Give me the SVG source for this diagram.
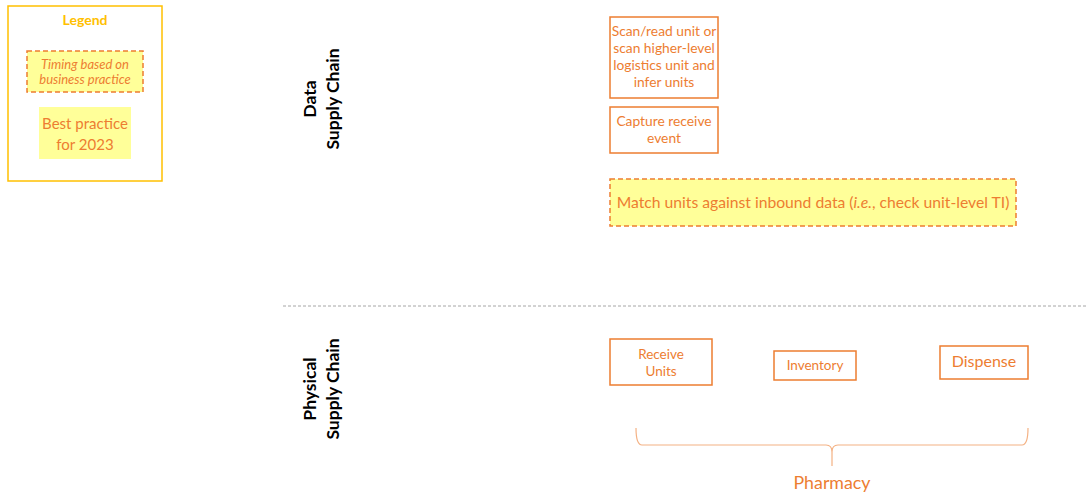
<svg xmlns="http://www.w3.org/2000/svg" width="1088" height="495" viewBox="0 0 1088 495">
<style>
text{font-family:Lato,"Open Sans","Liberation Sans",sans-serif;fill:#ED7D31;text-anchor:middle}
.box{fill:#fff;stroke:#ED7D31;stroke-width:1.5}
.dash{fill:#FFFF99;stroke:#ED7D31;stroke-width:1.5;stroke-dasharray:5,3}
.lane{fill:#000;font-weight:bold;font-size:17.5px}
</style>
<rect width="1088" height="495" fill="#fff"/>
<g id="legend">
<rect x="8" y="6" width="154" height="175" fill="#fff" stroke="#FFC000" stroke-width="1.5"/>
<text x="85" y="25" font-size="14" font-weight="bold" style="fill:#FFC000">Legend</text>
<rect class="dash" x="27" y="51" width="116" height="41"/>
<text x="85" y="69" font-size="13" font-style="italic">Timing based on</text>
<text x="85" y="84" font-size="13" font-style="italic">business practice</text>
<rect x="39" y="107" width="92" height="52" fill="#FFFF99"/>
<text x="85" y="129" font-size="15">Best practice</text>
<text x="85" y="150" font-size="15">for 2023</text>
</g>
<g id="lane-data">
<text class="lane" transform="translate(316,99) rotate(-90)">Data</text>
<text class="lane" transform="translate(339,99) rotate(-90)">Supply Chain</text>
</g>
<g id="lane-physical">
<text class="lane" transform="translate(316,389) rotate(-90)">Physical</text>
<text class="lane" transform="translate(339,389) rotate(-90)">Supply Chain</text>
</g>
<g id="connectors">
<line x1="283" y1="306" x2="1086" y2="306" stroke="#A6A6A6" stroke-width="1" stroke-dasharray="3,2"/>
<path d="M636 428 Q636 445 642 445 L826 445 Q832 445 832 452 L832 466 M832 452 Q832 445 838 445 L1022 445 Q1028 445 1028 428" fill="none" stroke="#F4B183" stroke-width="1.2"/>
</g>
<g id="scan">
<rect class="box" x="610" y="17" width="108" height="81"/>
<text x="664" y="36" font-size="13.8">Scan/read unit or</text>
<text x="664" y="53" font-size="13.8">scan higher-level</text>
<text x="664" y="70" font-size="13.8">logistics unit and</text>
<text x="664" y="87" font-size="13.8">infer units</text>
</g>
<g id="capture">
<rect class="box" x="610" y="107" width="108" height="46"/>
<text x="664" y="126" font-size="13.8">Capture receive</text>
<text x="664" y="143" font-size="13.8">event</text>
</g>
<g id="match">
<rect class="dash" x="610" y="179" width="406" height="47"/>
<text x="813" y="208" font-size="15.7">Match units against inbound data (<tspan font-style="italic">i.e.</tspan>, check unit-level TI)</text>
</g>
<g id="receive">
<rect class="box" x="610" y="339" width="102" height="46"/>
<text x="661" y="359" font-size="13.5">Receive</text>
<text x="661" y="376" font-size="13.5">Units</text>
</g>
<g id="inventory">
<rect class="box" x="774" y="351" width="82" height="29"/>
<text x="815" y="370" font-size="13.5">Inventory</text>
</g>
<g id="dispense">
<rect class="box" x="940" y="346" width="88" height="33"/>
<text x="984" y="367" font-size="16">Dispense</text>
</g>
<g id="pharmacy">
<text x="832" y="489" font-size="17.8">Pharmacy</text>
</g>
</svg>
